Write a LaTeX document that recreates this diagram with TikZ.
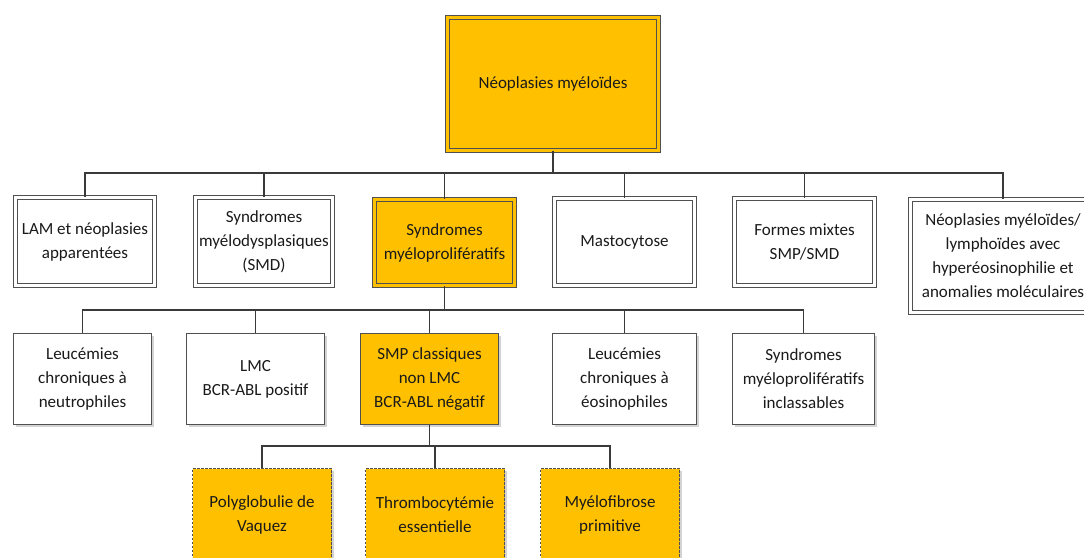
\documentclass[tikz,border=0pt]{standalone}
\usepackage{fontspec}
\setmainfont{Carlito}
\usetikzlibrary{shadows}
\definecolor{amber}{HTML}{FFC000}
\definecolor{lineg}{HTML}{3A3A3A}
\definecolor{brd}{HTML}{505050}
\definecolor{txt}{HTML}{1A1A1A}
\tikzset{
  box/.style={draw=brd, text=txt, align=center, inner sep=2pt,
    font=\fontsize{17}{24}\selectfont,
    drop shadow={opacity=0.35, shadow xshift=2pt, shadow yshift=-2pt}},
  dblbox/.style={box, line width=1.1pt, double=white, double distance=2.4pt},
  dblamber/.style={box, fill=amber, line width=1.1pt, double=amber, double distance=2.4pt},
  plainbox/.style={box, fill=white, line width=1.4pt},
  plainamber/.style={box, fill=amber, line width=1.4pt},
  dashbox/.style={box, fill=amber, line width=1.2pt, dash pattern=on 2.5pt off 1.5pt},
  conn/.style={draw=lineg, line width=1.8pt}
}
\begin{document}
\begin{tikzpicture}[x=1pt,y=-1pt]
\useasboundingbox (0,0) rectangle (1084,557);
% top
\node[dblamber, minimum width=211pt, minimum height=133pt] (top) at (553,84) {Néoplasies myéloïdes};
% level 1
\node[dblbox, fill=white, minimum width=139pt, minimum height=88pt] (lam) at (85,241.5) {LAM et néoplasies\\apparentées};
\node[dblbox, fill=white, minimum width=137pt, minimum height=88pt] (smd) at (264,241.5) {Syndromes\\myélodysplasiques\\(SMD)};
\node[dblamber, minimum width=140pt, minimum height=86pt] (smp) at (444.5,242.5) {Syndromes\\myéloprolifératifs};
\node[dblbox, fill=white, minimum width=140pt, minimum height=87pt] (masto) at (624.5,242) {Mastocytose};
\node[dblbox, fill=white, minimum width=140pt, minimum height=87pt] (formes) at (804.5,242) {Formes mixtes\\SMP/SMD};
\node[dblbox, fill=white, minimum width=185pt, minimum height=113pt] (neo) at (1003,256) {Néoplasies myéloïdes/\\lymphoïdes avec\\hyperéosinophilie et\\anomalies moléculaires};
% level 2
\node[plainbox, minimum width=138pt, minimum height=91pt] (ln) at (82.5,379) {Leucémies\\chroniques à\\neutrophiles};
\node[plainbox, minimum width=138pt, minimum height=91pt] (lmc) at (255.5,379) {LMC\\BCR-ABL positif};
\node[plainamber, minimum width=138pt, minimum height=91pt] (smpc) at (429.5,379) {SMP classiques\\non LMC\\BCR-ABL négatif};
\node[plainbox, minimum width=144pt, minimum height=91pt] (le) at (624.5,379) {Leucémies\\chroniques à\\éosinophiles};
\node[plainbox, minimum width=142pt, minimum height=91pt] (si) at (803.5,379) {Syndromes\\myéloprolifératifs\\inclassables};
% level 3
\node[dashbox, minimum width=139pt, minimum height=93pt] (pv) at (262,515) {Polyglobulie de\\Vaquez};
\node[dashbox, minimum width=139pt, minimum height=93pt] (te) at (435,515) {Thrombocytémie\\essentielle};
\node[dashbox, minimum width=139pt, minimum height=93pt] (mf) at (610,515) {Myélofibrose\\primitive};
% bus coordinates
\coordinate (b1) at (553,173);
\coordinate (b2) at (444.5,310);
\coordinate (b3) at (429.5,446);
% connectors
\draw[conn] (top) -- (b1);
\foreach \n in {lam,smd,smp,masto,formes,neo}{\draw[conn] (b1) -| (\n);}
\draw[conn] (smp) -- (b2);
\foreach \n in {ln,lmc,smpc,le,si}{\draw[conn] (b2) -| (\n);}
\draw[conn] (smpc) -- (b3);
\foreach \n in {pv,te,mf}{\draw[conn] (b3) -| (\n);}
\end{tikzpicture}
\end{document}
